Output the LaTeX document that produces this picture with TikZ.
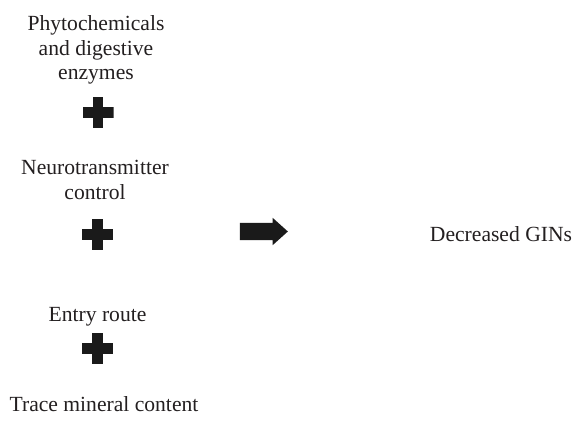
\documentclass[tikz,border=0pt]{standalone}
\usepackage{fontspec}
\setmainfont{Liberation Serif}
\usepackage{xcolor}
\usetikzlibrary{shapes.arrows}

\definecolor{ink}{HTML}{1A1A1A}
\definecolor{txt}{HTML}{231F20}

\begin{document}
\begin{tikzpicture}[
        x=1pt, y=-1pt,
        lbl/.style={align=center, inner sep=0pt, anchor=base, text=txt, font=\fontsize{21.6}{24.5}\selectfont},
        plus/.style={minimum size=31pt, inner sep=0pt, path picture={
            \fill[ink] ([xshift=-15.5pt, yshift=-5.25pt]path picture bounding box.center) rectangle ++(31pt,10.5pt);
            \fill[ink] ([xshift=-5.25pt, yshift=-15.5pt]path picture bounding box.center) rectangle ++(10.5pt,31pt);
        }},
        bigarr/.style={single arrow, fill=ink, inner sep=0pt, text height=17pt, text depth=0pt, minimum height=48pt, minimum width=27pt, single arrow head extend=5pt, single arrow tip angle=84},
    ]
        \useasboundingbox (0,0) rectangle (572,425);

        % last line sits on the given baseline
        \node[lbl] (phyto) at (96,80) {Phytochemicals\\and digestive\\enzymes};
        \node[plus] (plusA) at (98,112.5) {};
        \node[lbl] (neuro) at (95,199) {Neurotransmitter\\control};
        \node[plus] (plusB) at (97.5,234.5) {};
        \node[lbl] (entry) at (97.5,321) {Entry route};
        \node[plus] (plusC) at (97.5,348.5) {};
        \node[lbl] (trace) at (104,411) {Trace mineral content};

        \node[bigarr] (arrow) at (259,231.5) {};
        \node[lbl] (result) at (501,241) {Decreased GINs};
    \end{tikzpicture}
\end{document}
